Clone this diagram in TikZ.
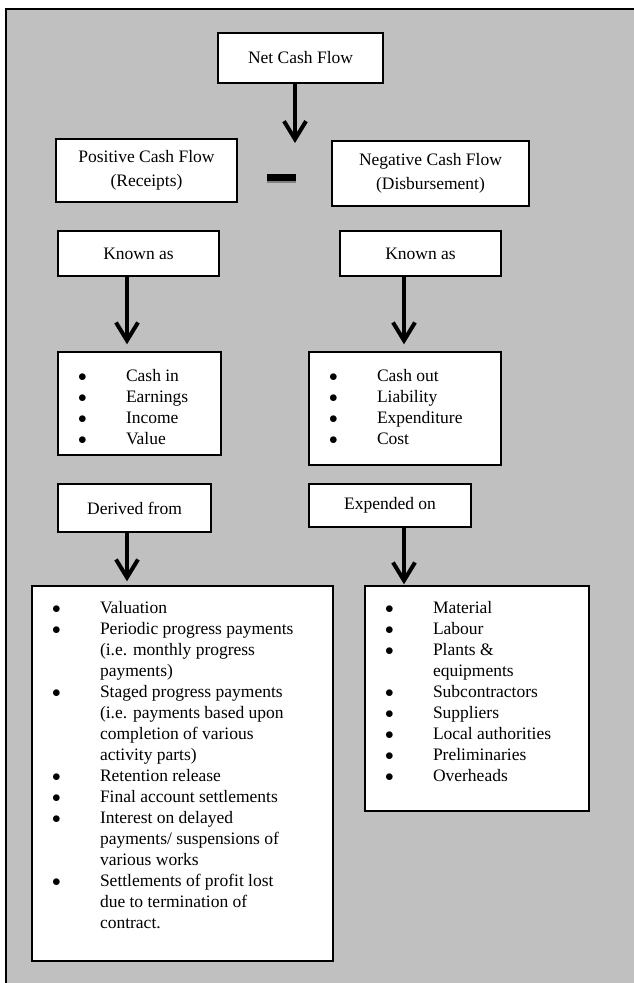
\documentclass[tikz,border=0pt]{standalone}
\usepackage{fontspec}
\setmainfont{Liberation Serif}
\usetikzlibrary{arrows.meta}
\definecolor{framegray}{RGB}{192,192,192}
\newcommand{\bul}{\makebox[68pt][l]{\hspace{20pt}$\bullet$}}
\newcommand{\ind}{\hspace*{68pt}}
\newcommand{\first}{\rule{0pt}{29pt}}
\tikzset{
  box/.style={draw, fill=white, line width=1.4pt, inner sep=0pt, align=center,
    font=\fontsize{17.5}{24}\selectfont},
  listbox/.style={draw, fill=white, line width=1.4pt, inner sep=0pt,
    font=\fontsize{17.5}{21}\selectfont},
  flow/.style={line width=4pt, -{Straight Barb[length=18pt,width=22pt]}}
}
\begin{document}
\begin{tikzpicture}[x=1pt, y=-1pt]
\useasboundingbox (0,0) rectangle (634,983);
\fill [framegray] (6,9) rectangle (634,983);
\draw [line width=1.8pt] (6,983) -- (6,9) -- (634,9);

\node [box, minimum width=165pt, minimum height=50pt] (net) at (300.5,58) {Net Cash Flow};
\node [box, minimum width=181pt, minimum height=63pt] (pos) at (146.5,170.5) {Positive Cash Flow\\(Receipts)};
\node [box, minimum width=197pt, minimum height=65pt] (neg) at (430.5,173.5) {Negative Cash Flow\\(Disbursement)};
\fill (267,174) rectangle (296,181);
\fill [gray] (267,181) rectangle (296,183);

\node [box, minimum width=161pt, minimum height=45pt] (knownin) at (138.5,253.5) {Known as};
\node [box, minimum width=161pt, minimum height=45pt] (knownout) at (420.5,253.5) {Known as};

\node [listbox] (cashin) at (139.5,403.5) {\parbox[c][103pt][t]{163pt}{\first\bul Cash in\\
  \bul Earnings\\ \bul Income\\ \bul Value}};
\node [listbox] (cashout) at (405,408.5) {\parbox[c][113pt][t]{192pt}{\first\bul Cash out\\
  \bul Liability\\ \bul Expenditure\\ \bul Cost}};

\node [box, minimum width=153pt, minimum height=48pt] (derived) at (134.5,508) {Derived from};
\node [box, minimum width=162pt, minimum height=43pt] (expended) at (390,505.5) {Expended on};

\node [listbox] (sources) at (182.5,773.5) {\parbox[c][375pt][t]{301pt}{\rule{0pt}{27pt}\bul Valuation\\
  \bul Periodic progress payments\\ \ind(i.e. monthly progress\\ \ind payments)\\
  \bul Staged progress payments\\ \ind(i.e. payments based upon\\ \ind completion of various\\
  \ind activity parts)\\ \bul Retention release\\ \bul Final account settlements\\
  \bul Interest on delayed\\ \ind payments/ suspensions of\\ \ind various works\\
  \bul Settlements of profit lost\\ \ind due to termination of\\ \ind contract.}};
\node [listbox] (uses) at (477,698.5) {\parbox[c][225pt][t]{224pt}{\rule{0pt}{27pt}\bul Material\\
  \bul Labour\\ \bul Plants \&\\ \ind equipments\\ \bul Subcontractors\\ \bul Suppliers\\
  \bul Local authorities\\ \bul Preliminaries\\ \bul Overheads}};

\coordinate (split) at (295,143);
\coordinate (inx) at (127,0);
\coordinate (outx) at (404,0);
\draw [flow] (net.south -| split) -- (split);
\draw [flow] (knownin.south -| inx) -- ([yshift=7pt]cashin.north -| inx);
\draw [flow] (knownout.south -| outx) -- ([yshift=7pt]cashout.north -| outx);
\draw [flow] (derived.south -| inx) -- ([yshift=4pt]sources.north -| inx);
\draw [flow] (expended.south -| outx) -- ([yshift=1pt]uses.north -| outx);
\end{tikzpicture}
\end{document}
